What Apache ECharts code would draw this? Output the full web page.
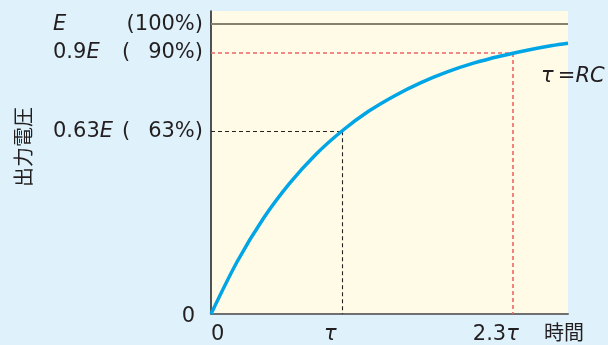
<!DOCTYPE html>
<html><head><meta charset="utf-8">
<script src="https://cdn.jsdelivr.net/npm/echarts@6/dist/echarts.min.js"></script>
<style>html,body{margin:0;padding:0;background:#dff2fb}#c{width:608px;height:345px}</style>
</head><body><div id="c"></div>
<script>
// Data
const timeValues    = [0, 0.2, 0.4, 0.6, 0.8, 1.0, 1.2, 1.4, 1.6, 1.8, 2.0, 2.2, 2.4, 2.6, 2.72];
const voltageValues = [0, 0.181, 0.33, 0.451, 0.551, 0.632, 0.699, 0.753, 0.798, 0.835, 0.865, 0.889, 0.909, 0.926, 0.934];
const xMax = 2.72;
const yMax = 1.045;
const fullLevel = 1;
const tauPoint = [1, 0.63];
const ninetyPoint = [2.3, 0.9];
const yTickValues = [1, 0.9, 0.63, 0];
const yTickMain   = ['{i|E}', '0.9{i|E}', '0.63{i|E}', '0'];
const yTickParen  = ['', '(', '(', ''];
const yTickPct    = ['(100%)', '90%)', '63%)', ''];
const xTickValues = [0, 1, 2.3];
const xTickLabels = ['0', '{i|τ}', '2.3{i|τ}'];
const xAxisTitle = '時間';
const yAxisTitle = '出力電圧';
const noteText = '{i|τ}\u2009={i|RC}';

const FONT = "'DejaVu Sans','Noto Sans CJK JP',sans-serif";
const CJK = "'Noto Sans CJK JP',sans-serif";
const TXT = '#231f20';
const rich = { i: { fontStyle: 'italic', fontFamily: FONT, fontSize: 21, fill: TXT, color: TXT } };

const chart = echarts.init(document.getElementById('c'), null, { renderer: 'canvas' });
const curve = timeValues.map((t, i) => [t, voltageValues[i]]);
const redDash = { color: '#ee6464', width: 1.6, type: [4, 3] };
const blackDash = { color: '#222', width: 1.1, type: [4, 3] };

chart.setOption({
  backgroundColor: '#dff2fb',
  animation: false,
  grid: { left: 211, right: 40, top: 11, bottom: 31, show: true, backgroundColor: '#fffbe7', borderWidth: 0 },
  xAxis: { type: 'value', min: 0, max: xMax, splitLine: { show: false }, axisTick: { show: false }, axisLabel: { show: false },
    axisLine: { show: true, onZero: false, lineStyle: { color: '#6f6f6f', width: 2 } } },
  yAxis: { type: 'value', min: 0, max: yMax, splitLine: { show: false }, axisTick: { show: false }, axisLabel: { show: false },
    axisLine: { show: true, onZero: false, lineStyle: { color: '#1a1a1a', width: 1.5 } } },
  series: [
    { type: 'line', data: [], markLine: { silent: true, symbol: 'none', label: { show: false },
        data: [
          [{ coord: [0, fullLevel], lineStyle: { color: '#868270', width: 2, type: 'solid' } }, { coord: [xMax, fullLevel] }],
          [{ coord: [0, ninetyPoint[1]], lineStyle: redDash }, { coord: ninetyPoint }],
          [{ coord: ninetyPoint, lineStyle: redDash }, { coord: [ninetyPoint[0], 0] }],
          [{ coord: [0, tauPoint[1]], lineStyle: blackDash }, { coord: tauPoint }],
          [{ coord: tauPoint, lineStyle: blackDash }, { coord: [tauPoint[0], 0] }]
        ] } },
    { type: 'line', data: curve, smooth: 0.3, showSymbol: false, lineStyle: { color: '#00a5e6', width: 3.5 }, z: 5 }
  ]
});

const elements = [];
yTickValues.forEach((v, i) => {
  const y = chart.convertToPixel({ yAxisIndex: 0 }, v);
  const isZero = v === 0;
  elements.push({ type: 'text', x: isZero ? 195 : 53, y: y + (isZero ? 3 : 0),
    style: { text: yTickMain[i], rich, font: '21px ' + FONT, fill: TXT, align: isZero ? 'right' : 'left', verticalAlign: 'middle' } });
  if (yTickParen[i]) elements.push({ type: 'text', x: 122, y: y,
    style: { text: yTickParen[i], font: '21px ' + FONT, fill: TXT, align: 'left', verticalAlign: 'middle' } });
  if (yTickPct[i]) elements.push({ type: 'text', x: 203, y: y,
    style: { text: yTickPct[i], font: '21px ' + FONT, fill: TXT, align: 'right', verticalAlign: 'middle' } });
});
const xOffsets = [0, -12, 6];
const xAligns = ['left', 'center', 'right'];
xTickValues.forEach((v, i) => {
  const x = chart.convertToPixel({ xAxisIndex: 0 }, v);
  elements.push({ type: 'text', x: x + xOffsets[i], y: 335,
    style: { text: xTickLabels[i], rich, font: '21px ' + FONT, fill: TXT, align: xAligns[i], verticalAlign: 'middle' } });
});
const x23 = chart.convertToPixel({ xAxisIndex: 0 }, xTickValues[2]);
elements.push({ type: 'text', x: x23 + 31, y: 332,
  style: { text: xAxisTitle, font: '20px ' + CJK, fill: TXT, align: 'left', verticalAlign: 'middle' } });
elements.push({ type: 'text', x: 23, y: 147, rotation: Math.PI / 2,
  style: { text: yAxisTitle, font: '20px ' + CJK, fill: TXT, align: 'center', verticalAlign: 'middle' } });
elements.push({ type: 'text', x: 541, y: 77,
  style: { text: noteText, rich, font: '21px ' + FONT, fill: TXT, align: 'left', verticalAlign: 'middle' } });
chart.setOption({ graphic: { elements } });
</script></body></html>
